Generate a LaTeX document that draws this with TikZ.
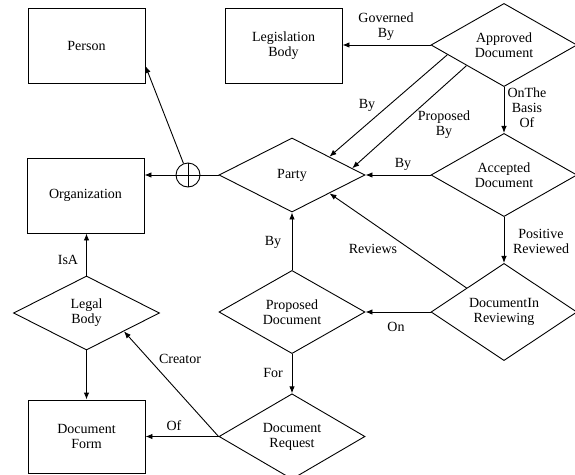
\documentclass[tikz,border=0pt]{standalone}
\usepackage{fontspec}
\setmainfont{Liberation Serif}
\usetikzlibrary{shapes.geometric,arrows.meta,calc}
\begin{document}
\begin{tikzpicture}[x=1pt,y=-1pt,
 every node/.style={font=\fontsize{14}{15}\selectfont, align=center},
 ent/.style={draw, line width=0.9pt, minimum width=117pt, minimum height=75pt, inner sep=0pt},
 rel/.style={draw, diamond, line width=0.9pt, minimum width=146pt, minimum height=74pt, inner sep=0pt},
 conn/.style={line width=0.9pt},
 arr/.style={conn, -{Latex[length=7pt,width=5.5pt]}},
 lbl/.style={inner sep=0pt}]
\useasboundingbox (0,0) rectangle (575,474);
% entities and relations
\node[ent] (person) at (86.5,45.5) {Person};
\node[ent] (leg) at (283.5,45.5) {Legislation\\Body};
\node[rel] (app) at (504,45) {Approved\\Document};
\node[ent] (org) at (85.5,195.5) {Organization};
\node[circle,draw,conn,minimum size=24pt,inner sep=0pt] (xo) at (188,175) {};
\node[rel] (party) at (292,175) {Party};
\node[rel] (acc) at (504,175) {Accepted\\Document};
\node[rel] (legal) at (86.5,313) {Legal\\Body};
\node[rel] (prop) at (292,312) {Proposed\\Document};
\node[rel] (rev) at (504,312) {DocumentIn\\Reviewing};
\node[ent, minimum height=73pt] (form) at (86.5,436.5) {Document\\Form};
\node[rel, minimum height=73pt] (req) at (292,436.5) {Document\\Request};
% connectors
\draw[conn] (xo.north) -- (xo.south) (xo.west) -- (xo.east);
\draw[conn] (party.west) -- (xo.east);
\draw[arr] (xo.west) -- (xo.west -| org.east);
\coordinate (pT) at ($(person.south east)!0.23!(person.north east)$);
\draw[arr] (xo) -- (pT);
\draw[arr] (app.west) -- (app.west -| leg.east);
\draw[arr] ($(app.west)!0.23!(app.south)$) -- ($(party.north)!0.51!(party.east)$);
\draw[arr] ($(app.west)!0.49!(app.south)$) -- ($(party.north)!0.82!(party.east)$);
\draw[arr] (app.south) -- (acc.north);
\draw[arr] (acc.west) -- (party.east);
\draw[arr] (acc.south) -- (rev.north);
\draw[arr] ($(rev.west)!0.49!(rev.north)$) -- ($(party.south)!0.51!(party.east)$);
\draw[arr] (rev.west) -- (prop.east);
\draw[arr] (prop.north) -- (party.south);
\draw[arr] (prop.south) -- (req.north);
\draw[arr] (req.west) -- (req.west -| form.east);
\draw[arr] (req.west) -- ($(legal.south)!0.51!(legal.east)$);
\draw[arr] (legal.north) -- (legal.north |- org.south);
\draw[arr] (legal.south) -- (form.north);
% labels
\node[lbl] (l1) at (386,27) {Governed\\By};
\node[lbl] (l2) at (367,105) {By};
\node[lbl] (l3) at (444,125) {Proposed\\By};
\node[lbl] (l4) at (527,108) {OnThe\\Basis\\Of};
\node[lbl] (l5) at (403,164) {By};
\node[lbl] (l6) at (541,241) {Positive\\Reviewed};
\node[lbl] (l7) at (373,249) {Reviews};
\node[lbl] (l8) at (396,327) {On};
\node[lbl] (l9) at (273,242) {By};
\node[lbl] (l10) at (273,373) {For};
\node[lbl] (l11) at (174,426) {Of};
\node[lbl] (l12) at (180,359) {Creator};
\node[lbl] (l13) at (68,260) {IsA};
\end{tikzpicture}
\end{document}
